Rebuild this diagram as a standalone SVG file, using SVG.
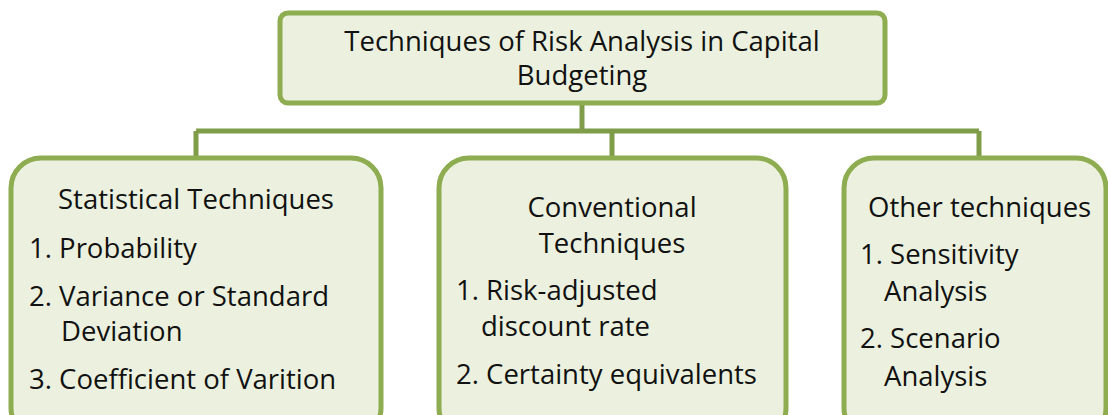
<svg xmlns="http://www.w3.org/2000/svg" width="1108" height="415" viewBox="0 0 1108 415">
<style>
.box{fill:#EBF1DE;stroke:#8EAC50;stroke-width:5}
.conn{fill:none;stroke:#7F9C48;stroke-width:5}
text{font-family:"Open Sans","Noto Sans","DejaVu Sans",sans-serif;font-size:27.5px;fill:#111}
.c{text-anchor:middle}
</style>
<rect width="1108" height="415" fill="#ffffff"/>
<g id="connectors">
<path class="conn" d="M582,104 V131"/>
<path class="conn" d="M196,131 H979"/>
<path class="conn" d="M196,131 V158"/>
<path class="conn" d="M612,131 V158"/>
<path class="conn" d="M979,131 V158"/>
</g>
<g id="root">
<rect class="box" x="280" y="13" width="605" height="90" rx="8"/>
<text class="c" x="582" y="51">Techniques of Risk Analysis in Capital</text>
<text class="c" x="582" y="85">Budgeting</text>
</g>
<g id="statistical">
<rect class="box" x="11" y="158" width="370" height="280" rx="30"/>
<text x="58" y="209">Statistical Techniques</text>
<text x="29" y="258">1. Probability</text>
<text x="29" y="306">2. Variance or Standard</text>
<text x="61" y="341">Deviation</text>
<text x="29" y="389">3. Coefficient of Varition</text>
</g>
<g id="conventional">
<rect class="box" x="439" y="158" width="347" height="280" rx="30"/>
<text class="c" x="612" y="217">Conventional</text>
<text class="c" x="612" y="253">Techniques</text>
<text x="456" y="300">1. Risk-adjusted</text>
<text x="481" y="336">discount rate</text>
<text x="456" y="384">2. Certainty equivalents</text>
</g>
<g id="other">
<rect class="box" x="844" y="158" width="262" height="280" rx="30"/>
<text x="868" y="217">Other techniques</text>
<text x="860" y="264">1. Sensitivity</text>
<text x="884" y="301">Analysis</text>
<text x="860" y="348">2. Scenario</text>
<text x="884" y="386">Analysis</text>
</g>
</svg>
